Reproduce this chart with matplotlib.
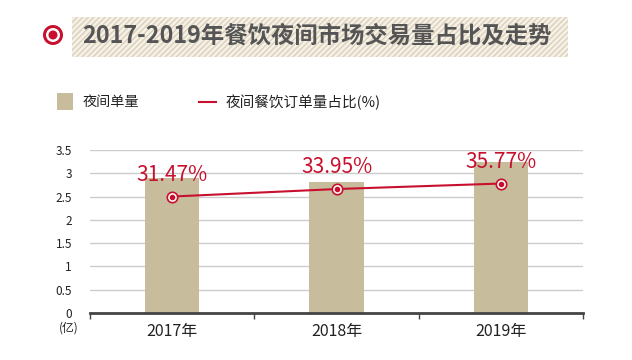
import matplotlib
matplotlib.use("Agg")
import matplotlib.pyplot as plt
import matplotlib.patches as mpatches

plt.rcParams['font.family'] = ['Noto Sans CJK SC', 'DejaVu Sans']
plt.rcParams['hatch.linewidth'] = 1.0

years = ['2017年', '2018年', '2019年']
night_orders = [2.90, 2.82, 3.25]          # 亿
share_pct = [31.47, 33.95, 35.77]          # %
yticks = [0, 0.5, 1, 1.5, 2, 2.5, 3, 3.5]
ytick_labels = ['0', '0.5', '1', '1.5', '2', '2.5', '3', '3.5']

bar_color = '#C7BC9C'
red = '#C8102E'
grid_color = '#CCCCCC'

fig = plt.figure(figsize=(6.32, 3.6), dpi=100)
ax = fig.add_axes([90/632, 1-313/360, 493/632, 163/360])

x = list(range(len(years)))
ax.bar(x, night_orders, width=0.33, color=bar_color, zorder=2)
ax.set_xlim(-0.5, 2.5)
ax.set_ylim(0, 3.5)
ax.set_yticks(yticks)
ax.set_yticklabels(ytick_labels, fontsize=8.5, color='#222222')
ax.yaxis.grid(True, color=grid_color, linewidth=1, zorder=0)
ax.tick_params(axis='y', length=0, pad=13)
ax.set_xticks(x)
ax.set_xticklabels(years, fontsize=11.5, color='#222222')
ax.set_xticks([-0.5, 0.5, 1.5, 2.5], minor=True)
ax.tick_params(axis='x', which='major', length=0, pad=7)
ax.tick_params(axis='x', which='minor', length=4, width=1, color='#444444', direction='out')
for s in ['top', 'right', 'left']:
    ax.spines[s].set_visible(False)
ax.spines['bottom'].set_color('#444444')
ax.spines['bottom'].set_linewidth(2)
ax.spines['bottom'].set_zorder(5)

ax.text(-0.63, -0.33, '(亿)', fontsize=8.5, color='#222222', ha='center', va='center',
        transform=ax.transData, clip_on=False)

# share line on a hidden secondary axis
ax2 = ax.twinx()
ax2.set_ylim(-7.06, 46.87)
ax2.axis('off')
ax2.plot(x, share_pct, color=red, linewidth=1.5, zorder=3)
ax2.plot(x, share_pct, 'o', ms=7.5, mfc='white', mec=red, mew=1.2, zorder=4)
ax2.plot(x, share_pct, 'o', ms=3, color=red, zorder=5)
for xi, p in zip(x, share_pct):
    ax2.annotate(f'{p:.2f}%', (xi, p), xytext=(0, 22), textcoords='offset pixels',
                 ha='center', va='center', fontsize=15, color=red)

# overlay for title and legend (pixel coordinates)
ov = fig.add_axes([0, 0, 1, 1], zorder=-1)
ov.set_xlim(0, 632)
ov.set_ylim(360, 0)
ov.axis('off')
ov.add_patch(mpatches.Rectangle((72, 17), 496, 40, facecolor='#F5F1E8',
                                edgecolor='#DCD0B8', hatch='//////', linewidth=0))
ov.add_patch(mpatches.Circle((53, 35), 10, facecolor=red, edgecolor='none'))
ov.add_patch(mpatches.Circle((53, 35), 7, facecolor='white', edgecolor='none'))
ov.add_patch(mpatches.Circle((53, 35), 4.5, facecolor=red, edgecolor='none'))
ov.text(317, 36, '2017-2019年餐饮夜间市场交易量占比及走势', fontsize=16.8,
        fontweight='bold', color='#555555', ha='center', va='center')

ov.add_patch(mpatches.Rectangle((57, 93), 16, 17, facecolor=bar_color, edgecolor='none'))
ov.text(83, 102, '夜间单量', fontsize=10.2, color='#222222', va='center')
ov.plot([199, 216], [102, 102], color=red, linewidth=1.5)
ov.text(226, 102, '夜间餐饮订单量占比(%)', fontsize=10.5, color='#222222', va='center')

fig.savefig('out.png', dpi=100)
